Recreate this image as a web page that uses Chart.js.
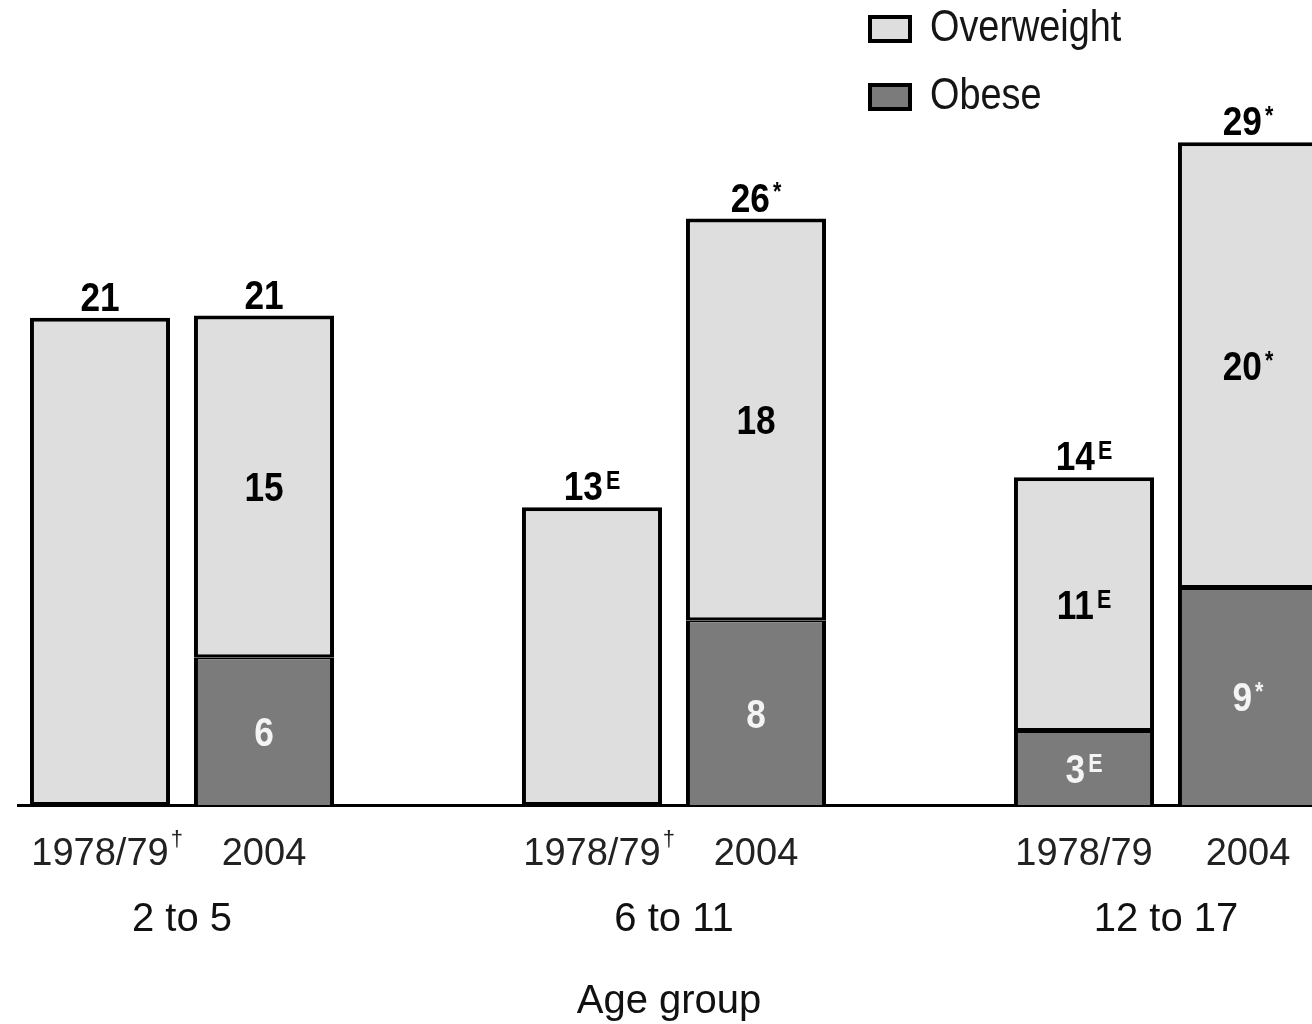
<!DOCTYPE html>
<html>
<head>
<meta charset="utf-8">
<title>Overweight and obesity by age group</title>
<script src="https://cdn.jsdelivr.net/npm/chart.js@4.4.1/dist/chart.umd.min.js"></script>
<style>
  body { margin: 0; overflow: hidden; background: #fff; }
  #wrap { position: absolute; left: 0; top: 0; width: 1340px; height: 1024px; }
</style>
</head>
<body>
<div id="wrap"><canvas id="chart" width="1340" height="1024"></canvas></div>
<script>
// bars sit on slots 0,1 / 3,4 / 6,7, the empty slots make the gaps between age groups
const years = ['1978/79', '2004', '', '1978/79', '2004', '', '1978/79', '2004']
const yearMarks = ['†', '', '', '†', '', '', '', '']
const ageGroups = ['2 to 5', '6 to 11', '12 to 17']
const obese = [null, 6.4, null, null, 8.0, null, 3.2, 9.4]
const overweight = [21.1, 14.8, null, 12.9, 17.4, null, 11.0, 19.3]
// "^" marks the superscript part of a label
const totalLabels = ['21', '21', '', '13^E', '26^*', '', '14^E', '29^*']
const overweightLabels = ['', '15', '', '', '18', '', '11^E', '20^*']
const obeseLabels = ['', '6', '', '', '8', '', '3^E', '9^*']

const SANS = "'Liberation Sans', Arial, sans-serif"
const LIGHT = '#dedede'
const DARK = '#7b7b7b'
const SQUEEZE = 0.86 // the original type is a narrow face

function textX (ctx, text, x, y, sx) {
	ctx.save()
	ctx.translate(x, y)
	ctx.scale(sx, 1)
	ctx.fillText(text, 0, 0)
	ctx.restore()
}

function drawSup (ctx, label, x, y, size, color, weight) {
	const parts = label.split('^')
	const base = parts[0]
	const sup = parts[1]
	const supSize = Math.round(size * 0.62)
	ctx.fillStyle = color
	ctx.textAlign = 'left'
	ctx.textBaseline = 'alphabetic'
	ctx.font = `${weight} ${size}px ${SANS}`
	const w1 = ctx.measureText(base).width * SQUEEZE
	let w2 = 0
	if (sup) {
		ctx.font = `${weight} ${supSize}px ${SANS}`
		w2 = ctx.measureText(sup).width * SQUEEZE + 3
	}
	const left = x - (w1 + w2) / 2
	ctx.font = `${weight} ${size}px ${SANS}`
	textX(ctx, base, left, y, SQUEEZE)
	if (sup) {
		ctx.font = `${weight} ${supSize}px ${SANS}`
		textX(ctx, sup, left + w1 + 3, y - size * 0.72 + supSize * 0.72, SQUEEZE)
	}
}

const labelsPlugin = {
	id: 'labels',
	afterDatasetsDraw (chart) {
		const ctx = chart.ctx
		const obeseMeta = chart.getDatasetMeta(0)
		const overMeta = chart.getDatasetMeta(1)
		const x = chart.scales.x
		ctx.save()

		years.forEach((year, i) => {
			const top = overMeta.data[i]
			if (top && overweight[i] != null) {
				if (totalLabels[i]) drawSup(ctx, totalLabels[i], top.x, top.y - 7, 41, '#000', 'bold')
				if (overweightLabels[i]) drawSup(ctx, overweightLabels[i], top.x, (top.y + top.base) / 2 + 15, 41, '#000', 'bold')
			}
			const low = obeseMeta.data[i]
			if (low && obese[i] != null && obeseLabels[i]) {
				drawSup(ctx, obeseLabels[i], low.x, (low.y + low.base) / 2 + 15, 41, '#f4f4f4', 'bold')
			}

			if (!year) return
			const cx = x.getPixelForValue(i)
			ctx.fillStyle = '#222'
			ctx.textAlign = 'left'
			ctx.textBaseline = 'alphabetic'
			ctx.font = `38px ${SANS}`
			const w1 = ctx.measureText(year).width
			const left = cx - w1 / 2
			ctx.fillText(year, left, 865)
			if (yearMarks[i]) {
				ctx.font = `22px ${SANS}`
				ctx.fillText(yearMarks[i], left + w1 + 2, 846)
			}
		})

		ctx.textAlign = 'center'
		ctx.fillStyle = '#111'
		ctx.font = `40px ${SANS}`
		ageGroups.forEach((g, k) => {
			const cx = (x.getPixelForValue(k * 3) + x.getPixelForValue(k * 3 + 1)) / 2
			ctx.fillText(g, cx, 931)
		})
		ctx.fillText('Age group', (x.getPixelForValue(3) + x.getPixelForValue(4)) / 2 - 5, 1013)

		// legend, top to bottom: Overweight then Obese
		const items = [chart.data.datasets[1], chart.data.datasets[0]]
		items.forEach((ds, k) => {
			const by = 17 + k * 68
			ctx.fillStyle = ds.backgroundColor
			ctx.fillRect(870, by, 40, 24)
			ctx.lineWidth = 4
			ctx.strokeStyle = '#000'
			ctx.strokeRect(870, by, 40, 24)
			ctx.fillStyle = '#151515'
			ctx.textAlign = 'left'
			ctx.textBaseline = 'middle'
			ctx.font = `44px ${SANS}`
			textX(ctx, ds.label, 930, by + 12, SQUEEZE)
		})
		ctx.restore()
	}
}

new Chart(document.getElementById('chart'), {
	type: 'bar',
	data: {
		labels: years,
		datasets: [
			{
				label: 'Obese',
				data: obese,
				backgroundColor: DARK,
				borderColor: '#000',
				borderWidth: { top: 2, left: 4, right: 4, bottom: 0 },
				borderSkipped: false
			},
			{
				label: 'Overweight',
				data: overweight,
				backgroundColor: LIGHT,
				borderColor: '#000',
				borderWidth: { top: 4, left: 4, right: 4, bottom: 3 },
				borderSkipped: false
			}
		]
	},
	options: {
		responsive: false,
		animation: false,
		devicePixelRatio: 1,
		layout: { padding: { left: 18, right: 10, top: 20, bottom: 219 } },
		datasets: { bar: { barPercentage: 0.854, categoryPercentage: 1, inflateAmount: 0 } },
		plugins: { legend: { display: false }, tooltip: { enabled: false } },
		scales: {
			x: {
				stacked: true,
				grid: { display: false, drawTicks: false },
				border: { display: true, color: '#000', width: 3 },
				ticks: { display: false }
			},
			y: {
				stacked: true,
				display: false,
				min: 0,
				max: 34
			}
		}
	},
	plugins: [labelsPlugin]
})
</script>
</body>
</html>
